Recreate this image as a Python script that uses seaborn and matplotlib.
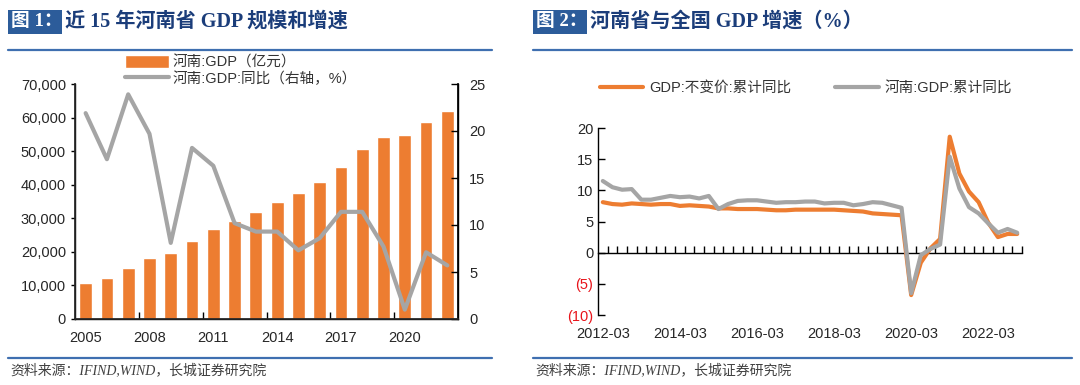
import numpy as np
import pandas as pd
import matplotlib
matplotlib.use("Agg")
import matplotlib.pyplot as plt
from matplotlib.lines import Line2D
from matplotlib.patches import Rectangle
from matplotlib.ticker import FuncFormatter, FixedLocator
import seaborn as sns

# data: chart 1 (annual)
years = list(range(2005, 2023))
gdp = [10650, 12300, 15100, 18100, 19600, 23100, 26800, 29300, 32000,
       35000, 37500, 40700, 45400, 50500, 54200, 54800, 58700, 62000]
gdp_yoy = [21.9, 17.0, 23.9, 19.7, 8.1, 18.2, 16.3, 10.2, 9.3,
           9.3, 7.3, 8.6, 11.4, 11.4, 7.7, 1.0, 7.1, 5.7]

# data: chart 2 (quarterly, cumulative yoy)
quarters = [f"{y}-{m:02d}" for y in range(2012, 2023) for m in (3, 6, 9, 12)]
national = [8.1, 7.8, 7.7, 7.9, 7.8, 7.7, 7.8, 7.8,
            7.5, 7.6, 7.5, 7.4, 7.1, 7.1, 7.0, 7.0,
            7.0, 6.9, 6.8, 6.8, 6.9, 6.9, 6.9, 6.9,
            6.9, 6.8, 6.7, 6.6, 6.3, 6.2, 6.1, 6.0,
            -6.8, -1.6, 0.7, 2.2, 18.6, 12.7, 9.8, 8.1,
            4.8, 2.5, 3.0, 3.0]
henan = [11.5, 10.5, 10.1, 10.2, 8.5, 8.5, 8.8, 9.1,
         8.9, 9.0, 8.7, 9.1, 7.0, 7.8, 8.3, 8.4,
         8.4, 8.2, 8.0, 8.1, 8.1, 8.2, 8.2, 7.9,
         8.0, 8.0, 7.6, 7.8, 8.1, 8.0, 7.6, 7.2,
         -6.5, -0.4, 0.6, 1.3, 15.4, 10.3, 7.3, 6.3,
         4.7, 3.2, 3.8, 3.2]

orange = "#ED7D31"
gray = "#A5A5A5"
title_blue = "#1B3D7A"
box_blue = "#2C5C9A"
line_blue = "#3F6FB0"

sns.set_theme(style="white")
plt.rcParams["font.family"] = ["Liberation Sans", "Noto Sans CJK SC"]
plt.rcParams["axes.unicode_minus"] = False

fig = plt.figure(figsize=(10.8, 3.85), dpi=100)
W, H = 1080, 385


def fx(px):
    return px / W


def fy(py):
    return 1 - py / H


# ---------- chart 1 ----------
ax1 = fig.add_axes([fx(75), fy(319), fx(458 - 75), (319 - 84) / H])
df1 = pd.DataFrame({"year": [str(y) for y in years], "gdp": gdp, "yoy": gdp_yoy})
sns.barplot(data=df1, x="year", y="gdp", color=orange, saturation=1, width=0.6, ax=ax1)
ax1.set_xlim(-0.5, len(years) - 0.5)
ax1.set_ylim(0, 70000)
ax1.yaxis.set_major_formatter(FuncFormatter(lambda v, p: f"{v:,.0f}"))
ax1.set_xticks(range(0, len(years), 3))
ax1.set_xticklabels([str(y) for y in years[::3]])
ax1.xaxis.set_minor_locator(FixedLocator(np.arange(2.5, len(years) - 1, 3)))
ax1.tick_params(axis="x", which="major", length=0, labelsize=10.5, pad=9)
ax1.tick_params(axis="x", which="minor", direction="in", length=5, width=1, color="black", bottom=True)
ax1.tick_params(axis="y", direction="out", length=3, width=1, color="black", labelsize=10.5, left=True)
ax1.set_xlabel("")
ax1.set_ylabel("")
for s in ["left", "bottom", "right"]:
    ax1.spines[s].set_color("black")
    ax1.spines[s].set_linewidth(1)
ax1.spines["top"].set_visible(False)

ax1b = ax1.twinx()
sns.lineplot(x=np.arange(len(years)), y=gdp_yoy, color=gray, linewidth=3, ax=ax1b)
ax1b.set_ylim(0, 25)
ax1b.set_yticks([0, 5, 10, 15, 20, 25])
ax1b.tick_params(axis="y", direction="in", length=5, width=1, color="black", labelsize=10.5, right=True, pad=8)
ax1b.spines["top"].set_visible(False)
ax1b.spines["right"].set_color("black")
ax1b.set_ylabel("")

leg1 = fig.legend([ax1.patches[0], ax1b.lines[0]],
                  ["河南:GDP（亿元）", "河南:GDP:同比（右轴，%）"],
                  loc="upper left", bbox_to_anchor=(fx(124), fy(54)),
                  fontsize=10.5, frameon=True, framealpha=1, edgecolor="white",
                  handlelength=3.0, handleheight=0.9, handletextpad=0.2,
                  borderpad=0.1, labelspacing=0.1, borderaxespad=0)
leg1.get_frame().set_linewidth(0)
for t in leg1.get_texts():
    t.set_color("#333333")

# ---------- chart 2 ----------
ax2 = fig.add_axes([fx(598), fy(315), fx(1022 - 598), (315 - 128) / H])
x = np.arange(len(quarters))
sns.lineplot(x=x, y=national, color=orange, linewidth=3, ax=ax2, label="GDP:不变价:累计同比")
sns.lineplot(x=x, y=henan, color=gray, linewidth=3, ax=ax2, label="河南:GDP:累计同比")
ax2.set_xlim(-0.5, len(quarters) - 0.5)
ax2.set_ylim(-10, 20)
ax2.set_yticks([-10, -5, 0, 5, 10, 15, 20])
ax2.yaxis.set_major_formatter(FuncFormatter(lambda v, p: f"({abs(v):.0f})" if v < 0 else f"{v:.0f}"))
ax2.set_xticks(range(0, len(quarters), 8))
ax2.set_xticklabels(quarters[::8])
ax2.tick_params(axis="x", length=0, labelsize=10.5, pad=9)
ax2.tick_params(axis="y", direction="in", length=5, width=1, color="black", labelsize=10.5, left=True)
for lab in ax2.get_yticklabels():
    if lab.get_text().startswith("("):
        lab.set_color("#E8141B")
for s in ["top", "right", "bottom"]:
    ax2.spines[s].set_visible(False)
ax2.spines["left"].set_color("black")
ax2.spines["left"].set_linewidth(1)

zero_ax = ax2.secondary_xaxis(1 / 3)
zero_ax.set_xticks(np.arange(0.5, len(quarters), 1))
zero_ax.tick_params(axis="x", direction="in", length=5, width=1, color="black", labelbottom=False)
zero_ax.spines["bottom"].set_color("black")
zero_ax.spines["bottom"].set_linewidth(1)

ax2.legend_.remove()
h2, l2 = ax2.get_legend_handles_labels()
leg2 = fig.legend(h2, l2, loc="center", bbox_to_anchor=(fx(806), fy(88)), ncol=2,
                  fontsize=10.5, frameon=False, handlelength=3.0, handletextpad=0.4,
                  columnspacing=3.0)
for t in leg2.get_texts():
    t.set_color("#333333")

# ---------- titles, rules, sources ----------
title_font = ["Liberation Serif", "Noto Sans CJK SC"]
for x0, x1, num, title in [(8, 492, "图 1：", "近 15 年河南省 GDP 规模和增速"),
                           (533, 1072, "图 2：", "河南省与全国 GDP 增速（%）")]:
    fig.add_artist(Rectangle((fx(x0), fy(34)), fx(54), 24 / H, facecolor=box_blue,
                             edgecolor="none", transform=fig.transFigure))
    fig.text(fx(x0 + 3), fy(22), num, family=title_font, fontsize=13.5, fontweight="bold",
             color="white", va="center", ha="left")
    fig.text(fx(x0 + 57), fy(22), title, family=title_font, fontsize=14.5, fontweight="bold",
             color=title_blue, va="center", ha="left")
    fig.add_artist(Line2D([fx(x0), fx(x1)], [fy(50), fy(50)], color=line_blue, linewidth=1.6))
    fig.add_artist(Line2D([fx(x0), fx(x1)], [fy(358), fy(358)], color=line_blue, linewidth=1.6))
    fig.text(fx(x0 + 2), fy(371), "资料来源：IFIND,WIND，长城证券研究院", family=title_font,
             fontsize=10, style="italic", color="#404040", va="center", ha="left")

fig.savefig("out.png", dpi=100)
